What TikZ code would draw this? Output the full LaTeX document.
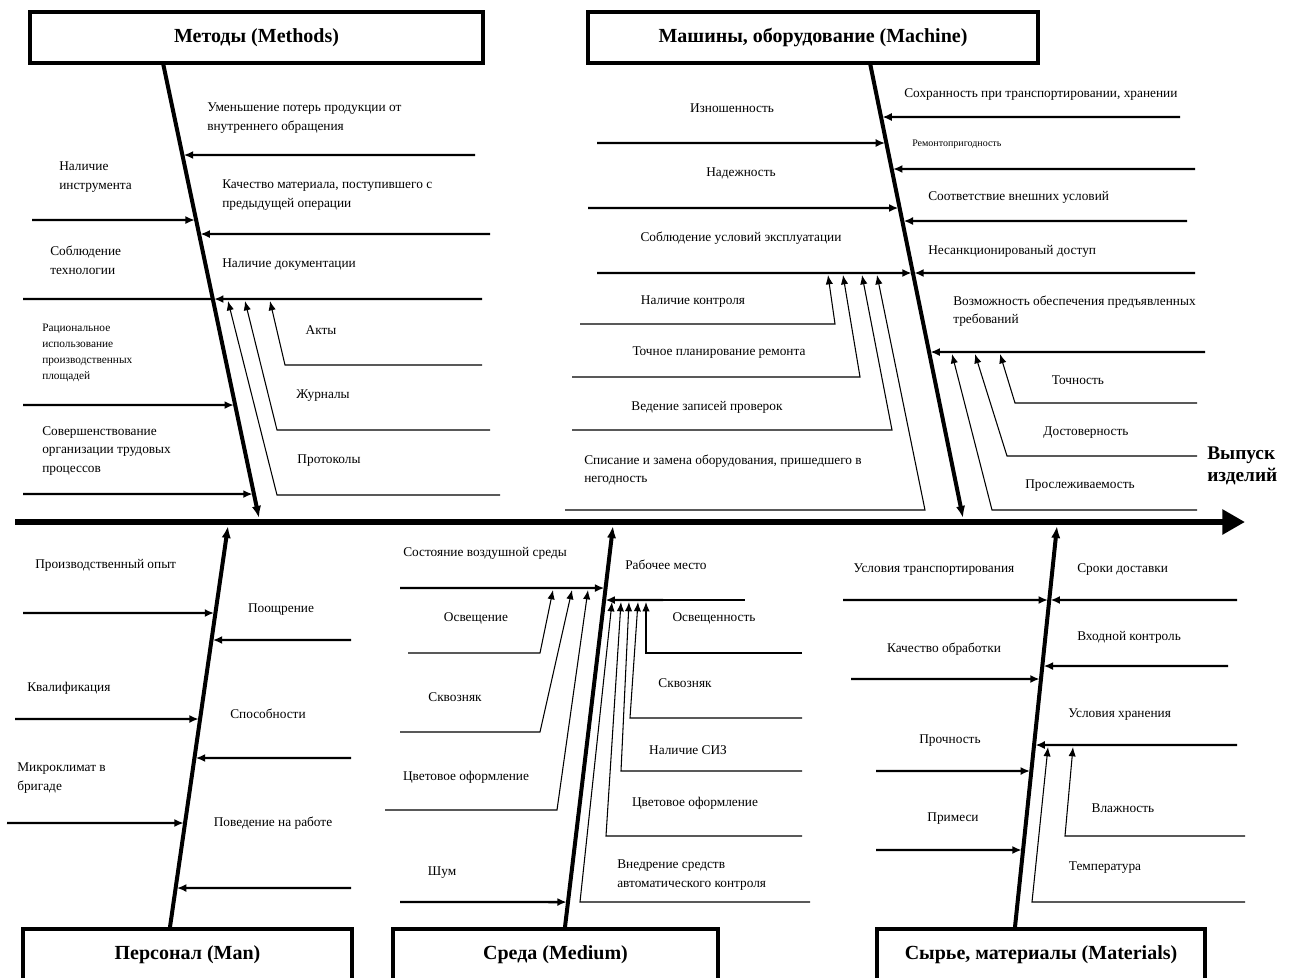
\documentclass[tikz,border=0pt]{standalone}
\usepackage{fontspec}
\setmainfont{Liberation Serif}
\usetikzlibrary{arrows.meta}

\tikzset{
  spine/.style={line width=5pt,-{Triangle[length=17pt,width=18pt]}},
  bone/.style={line width=3pt,-{Latex[length=9pt,width=7pt]}},
  rib/.style={line width=1.8pt,-{Latex[length=7pt,width=6pt]},shorten >=1pt},
  sub/.style={line width=0.8pt,-{Latex[length=7pt,width=5.5pt]}},
  lbl/.style={font=\fontsize{10}{14}\selectfont,align=left,inner sep=0pt},
  smalllbl/.style={font=\fontsize{8.5}{12}\selectfont,align=left,inner sep=0pt},
  tinylbl/.style={font=\fontsize{7.5}{9}\selectfont,inner sep=0pt},
  topbox/.style={draw,line width=3pt,font=\fontsize{15}{18}\selectfont\bfseries,minimum height=38pt},
  botbox/.style={draw,line width=3pt,anchor=north,font=\fontsize{15}{18}\selectfont\bfseries,
    text height=10.5pt,text depth=40pt,inner ysep=12pt}
}

\begin{document}
\begin{tikzpicture}[x=0.75pt,y=-0.75pt]
\useasboundingbox (0,0) rectangle (1290,978);
\clip (0,0) rectangle (1290,978);

% category boxes
\node[topbox,minimum width=339.75pt] (methods) at (256.5,37.5) {Методы (Methods)};
\node[topbox,minimum width=337.5pt] (machine) at (813,37.5) {Машины, оборудование (Machine)};
\node[botbox,minimum width=246.75pt] (man) at (187.5,927) {Персонал (Man)};
\node[botbox,minimum width=243.75pt] (medium) at (555.5,927) {Среда (Medium)};
\node[botbox,minimum width=246pt] (materials) at (1041,927) {Сырье, материалы (Materials)};

% bone ends
\coordinate (M1) at (163,63);   \coordinate (M2) at (259,518);
\coordinate (C1) at (870,63);   \coordinate (C2) at (963,518);
\coordinate (P1) at (170,927);  \coordinate (P2) at (228,526);
\coordinate (S1) at (565,927);  \coordinate (S2) at (613,526);
\coordinate (R1) at (1015,927); \coordinate (R2) at (1057,526);
\coordinate (start) at (15,522); \coordinate (effect) at (1245,522);

\draw[spine] (start) -- (effect);
\foreach \b in {M,C,P,S,R}
  \draw[bone] (\b1) -- (\b2);

% Methods
\foreach \x/\y in {475/155,490/234,482/299,32/220,23/405,23/494}
  \draw[rib] (\x,\y) -- (intersection of M1--M2 and 0,\y--1,\y);
\draw[line width=1.8pt] (23,299) -- (intersection of M1--M2 and 0,299--1,299);
\draw[sub] (482,365) -- (285,365) -- (270,301);
\draw[sub] (490,430) -- (277,430) -- (245,301);
\draw[sub] (500,495) -- (277,495) -- (228,301);

% Machine
\foreach \x/\y in {597/143,588/208,597/273,1180/117,1195/169,1187/221,1195/273,1205/352}
  \draw[rib] (\x,\y) -- (intersection of C1--C2 and 0,\y--1,\y);
\draw[sub] (580,324) -- (835,324) -- (828,275);
\draw[sub] (572,377) -- (860,377) -- (843,275);
\draw[sub] (572,430) -- (892,430) -- (862,275);
\draw[sub] (565,510) -- (925,510) -- (877,275);
\draw[sub] (1197,403) -- (1015,403) -- (1000,354);
\draw[sub] (1197,456) -- (1007,456) -- (975,354);
\draw[sub] (1197,510) -- (992,510) -- (952,354);

% Man
\foreach \x/\y in {23/613,15/719,7/823,351/640,351/758,351/888}
  \draw[rib] (\x,\y) -- (intersection of P1--P2 and 0,\y--1,\y);

% Medium
\foreach \x/\y in {400/588,400/902,663/600}
  \draw[rib] (\x,\y) -- (intersection of S1--S2 and 0,\y--1,\y);
\draw[line width=0.8pt] (663,600) -- (745,600);
\draw[sub] (408,653) -- (540,653) -- (553,590);
\draw[sub] (400,732) -- (540,732) -- (572,590);
\draw[sub] (385,810) -- (557,810) -- (588,590);
\draw[sub] (802,653) -- (646,653) -- (646,602);
\draw[sub] (802,718) -- (630,718) -- (638,602);
\draw[sub] (802,771) -- (621,771) -- (629,602);
\draw[sub] (802,836) -- (606,836) -- (621,602);
\draw[sub] (810,902) -- (580,902) -- (612,602);

% Materials
\foreach \x/\y in {843/600,851/679,876/771,876/850,1237/600,1228/666,1237/745}
  \draw[rib] (\x,\y) -- (intersection of R1--R2 and 0,\y--1,\y);
\draw[sub] (1245,836) -- (1065,836) -- (1073,747);
\draw[sub] (1245,902) -- (1032,902) -- (1048,747);

% labels: Methods
\node[lbl,anchor=west] (m1) at (207,118) {Уменьшение потерь продукции от\\внутреннего обращения};
\node[lbl,anchor=west] (m2) at (222,195) {Качество материала, поступившего с\\предыдущей операции};
\node[lbl,anchor=west] (m3) at (222,265) {Наличие документации};
\node[lbl] (m4) at (321,330) {Акты};
\node[lbl] (m5) at (323,396) {Журналы};
\node[lbl] (m6) at (329,461) {Протоколы};
\node[lbl,anchor=west] (m7) at (59,177) {Наличие\\инструмента};
\node[lbl,anchor=west] (m8) at (50,260) {Соблюдение\\технологии};
\node[smalllbl,anchor=west] (m9) at (42,353) {Рациональное\\использование\\производственных\\площадей};
\node[lbl,anchor=west] (m10) at (42,451) {Совершенствование\\организации трудовых\\процессов};

% labels: Machine
\node[lbl] (c1) at (732,108) {Изношенность};
\node[lbl] (c2) at (741,173) {Надежность};
\node[lbl] (c3) at (741,238) {Соблюдение условий эксплуатации};
\node[lbl] (c4) at (693,302) {Наличие контроля};
\node[lbl] (c5) at (719,353) {Точное планирование ремонта};
\node[lbl] (c6) at (707,407) {Ведение записей проверок};
\node[lbl,anchor=west] (c7) at (584,470) {Списание и замена оборудования, пришедшего в\\негодность};
\node[lbl,anchor=west] (c8) at (904,95) {Сохранность при транспортировании, хранении};
\node[tinylbl,anchor=west] (c9) at (912,144) {Ремонтопригодность};
\node[lbl,anchor=west] (c10) at (928,197) {Соответствие внешних условий};
\node[lbl,anchor=west] (c11) at (928,251) {Несанкционированый доступ};
\node[lbl,anchor=west] (c12) at (953,311) {Возможность обеспечения предъявленных\\требований};
\node[lbl] (c13) at (1078,380) {Точность};
\node[lbl] (c14) at (1086,433) {Достоверность};
\node[lbl] (c15) at (1080,486) {Прослеживаемость};
\node[font=\fontsize{14.5}{16.5}\selectfont\bfseries,align=left,anchor=west,inner sep=0pt] (output) at (1207,466) {Выпуск\\изделий};

% labels: Man
\node[lbl,anchor=west] (p1) at (35,565) {Производственный опыт};
\node[lbl,anchor=west] (p2) at (27,688) {Квалификация};
\node[lbl,anchor=west] (p3) at (17,778) {Микроклимат в\\бригаде};
\node[lbl] (p4) at (281,610) {Поощрение};
\node[lbl] (p5) at (268,714) {Способности};
\node[lbl] (p6) at (273,823) {Поведение на работе};

% labels: Medium
\node[lbl,anchor=west] (s1) at (403,553) {Состояние воздушной среды};
\node[lbl] (s2) at (476,618) {Освещение};
\node[lbl] (s3) at (455,697) {Сквозняк};
\node[lbl] (s4) at (466,777) {Цветовое оформление};
\node[lbl] (s5) at (442,873) {Шум};
\node[lbl,anchor=west] (s6) at (625,565) {Рабочее место};
\node[lbl] (s7) at (714,618) {Освещенность};
\node[lbl] (s8) at (685,683) {Сквозняк};
\node[lbl] (s9) at (688,750) {Наличие СИЗ};
\node[lbl] (s10) at (695,803) {Цветовое оформление};
\node[lbl,anchor=west] (s11) at (617,875) {Внедрение средств\\автоматического контроля};

% labels: Materials
\node[lbl] (r1) at (934,570) {Условия транспортирования};
\node[lbl] (r2) at (944,649) {Качество обработки};
\node[lbl] (r3) at (950,741) {Прочность};
\node[lbl] (r4) at (953,819) {Примеси};
\node[lbl,anchor=west] (r5) at (1077,570) {Сроки доставки};
\node[lbl,anchor=west] (r6) at (1077,637) {Входной контроль};
\node[lbl,anchor=west] (r7) at (1068,715) {Условия хранения};
\node[lbl] (r8) at (1123,808) {Влажность};
\node[lbl] (r9) at (1105,868) {Температура};

\end{tikzpicture}
\end{document}
